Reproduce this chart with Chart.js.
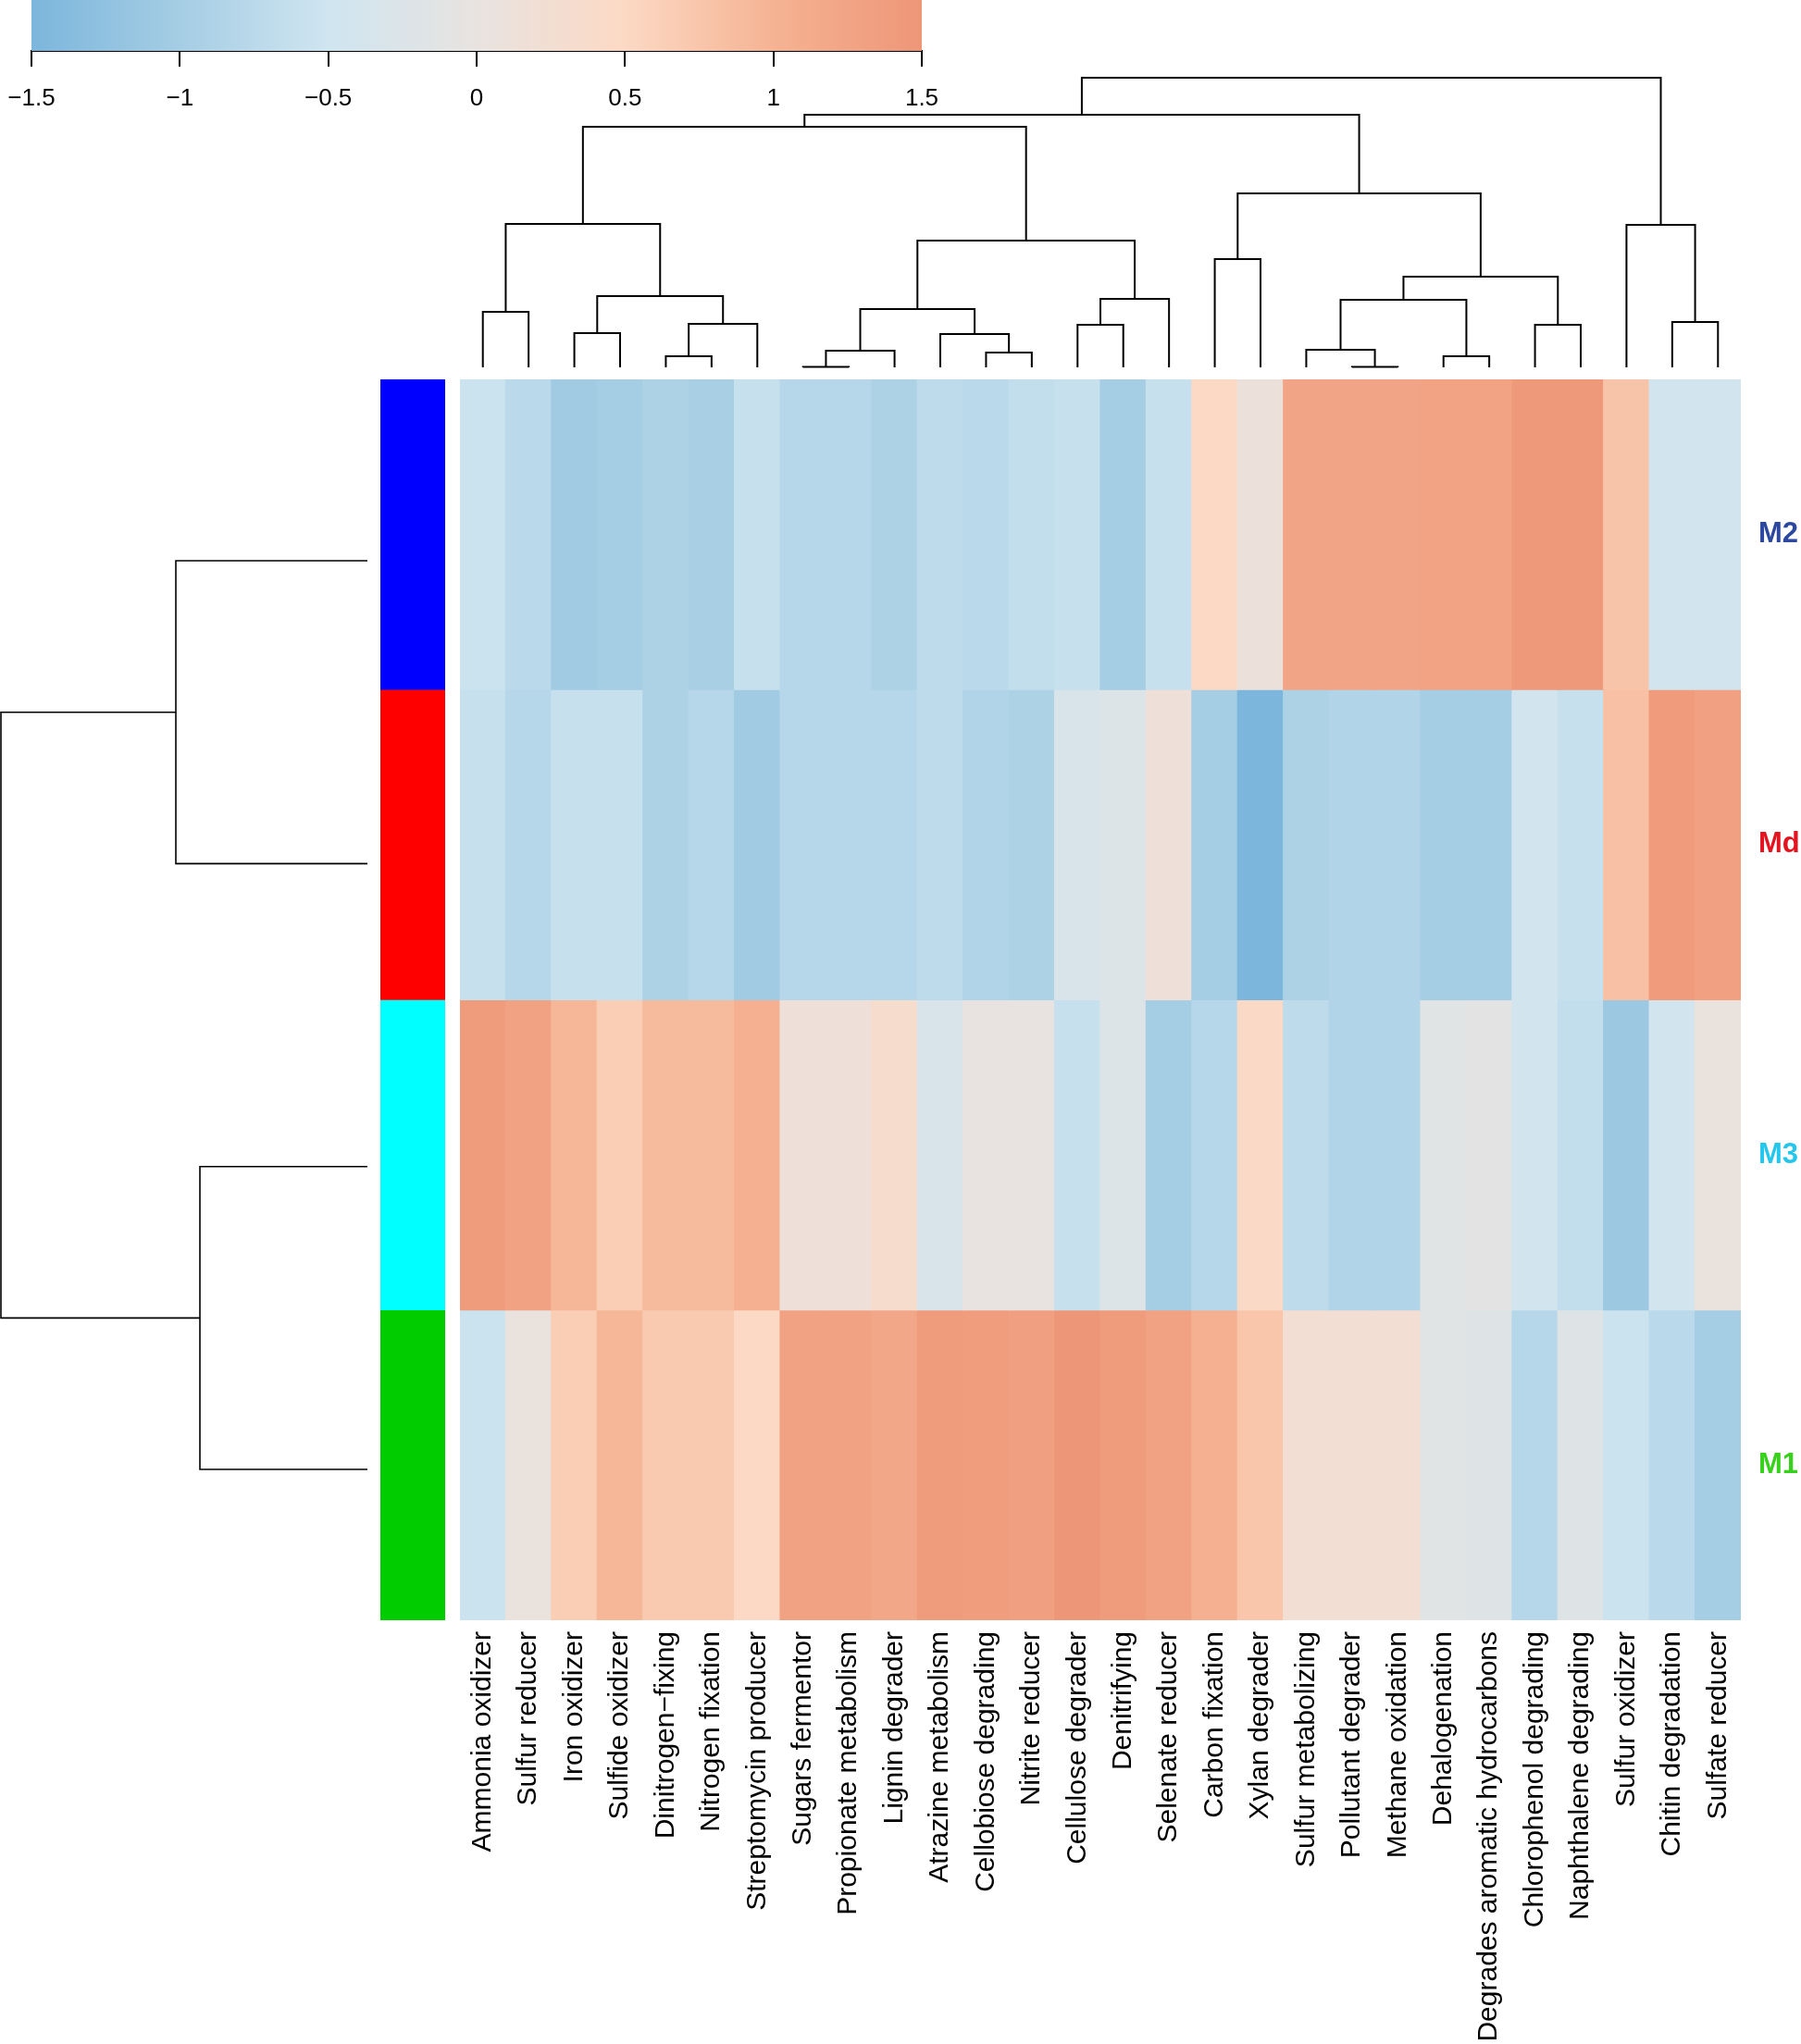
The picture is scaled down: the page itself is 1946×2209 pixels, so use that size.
<!DOCTYPE html>
<html>
<head>
<meta charset="utf-8">
<script src="https://cdn.jsdelivr.net/npm/chart.js@4.4.1/dist/chart.umd.min.js"></script>
<style>
  html, body { margin: 0; padding: 0; background: #fff; }
  #page { position: relative; width: 1946px; height: 2209px; overflow: hidden; }
  canvas { position: absolute; }
</style>
</head>
<body>
<div id="page">
  <canvas id="colorKey" width="1030" height="140" style="left:0px;top:0px"></canvas>
  <canvas id="colTree" width="1384" height="345" style="left:497px;top:60px"></canvas>
  <canvas id="rowTree" width="400" height="1341" style="left:0px;top:410px"></canvas>
  <canvas id="sideBar" width="70" height="1341" style="left:411px;top:410px"></canvas>
  <canvas id="heatmap" width="1449" height="1799" style="left:497px;top:410px"></canvas>
</div>
<script>
// functions (columns) in dendrogram order
var columns = [
  "Ammonia oxidizer", "Sulfur reducer", "Iron oxidizer", "Sulfide oxidizer",
  "Dinitrogen\u2212fixing", "Nitrogen fixation", "Streptomycin producer",
  "Sugars fermentor", "Propionate metabolism", "Lignin degrader",
  "Atrazine metabolism", "Cellobiose degrading", "Nitrite reducer",
  "Cellulose degrader", "Denitrifying", "Selenate reducer", "Carbon fixation",
  "Xylan degrader", "Sulfur metabolizing", "Pollutant degrader",
  "Methane oxidation", "Dehalogenation", "Degrades aromatic hydrocarbons",
  "Chlorophenol degrading", "Naphthalene degrading", "Sulfur oxidizer",
  "Chitin degradation", "Sulfate reducer"
];
var rows = ["M2", "Md", "M3", "M1"];

// z-scores per row, same order as columns
var m2Values = [-0.55, -0.75, -1.05, -1.0, -0.9, -0.95, -0.6, -0.8, -0.8, -0.9, -0.7, -0.75, -0.65, -0.6,
                -1.0, -0.6, 0.5, 0.1, 1.25, 1.25, 1.25, 1.28, 1.28, 1.45, 1.45, 0.78, -0.45, -0.45];
var mdValues = [-0.6, -0.8, -0.6, -0.6, -0.9, -0.8, -1.05, -0.8, -0.8, -0.8, -0.7, -0.85, -0.9, -0.3,
                -0.25, 0.15, -1.0, -1.5, -0.9, -0.85, -0.85, -1.0, -1.0, -0.45, -0.6, 0.82, 1.42, 1.32];
var m3Values = [1.4, 1.3, 0.95, 0.65, 0.9, 0.9, 1.05, 0.15, 0.15, 0.35, -0.3, 0.0, 0.0, -0.6,
                -0.25, -1.0, -0.8, 0.45, -0.7, -0.85, -0.85, -0.15, -0.1, -0.45, -0.65, -1.1, -0.45, 0.05];
var m1Values = [-0.55, 0.05, 0.65, 0.95, 0.7, 0.7, 0.5, 1.3, 1.3, 1.2, 1.4, 1.38, 1.35, 1.5,
                1.4, 1.3, 1.05, 0.75, 0.25, 0.25, 0.25, -0.15, -0.2, -0.8, -0.2, -0.55, -0.75, -1.0];

// colour key
var keyTicks = [-1.5, -1, -0.5, 0, 0.5, 1, 1.5];
var keyColors = ["#7CB6DC", "#A5CDE4", "#CFE5F0", "#E8E3E0", "#FCD9C4", "#F5B393", "#EE9678"];

var sideColors = ["#0000FF", "#FF0000", "#00FFFF", "#00CC00"];
var rowLabelColors = ["#2B479E", "#E3141F", "#25C6EC", "#37D11B"];

// column dendrogram, hclust style: negative = leaf, positive = earlier merge
var colMerge = [[-1, -2], [-3, -4], [-5, -6], [3, -7], [2, 4], [1, 5],
                [-8, -9], [7, -10], [-12, -13], [-11, 9], [8, 10], [-14, -15], [12, -16], [11, 13],
                [6, 14], [-17, -18], [-20, -21], [-19, 17], [-22, -23], [18, 19], [-24, -25], [20, 21],
                [16, 22], [15, 23], [-27, -28], [-26, 25], [24, 26]];
var colHeight = [0.60, 0.37, 0.12, 0.47, 0.77, 1.55,
                 0.005, 0.18, 0.16, 0.36, 0.63, 0.46, 0.74, 1.37,
                 2.60, 1.17, 0.005, 0.19, 0.12, 0.73, 0.46, 0.98,
                 1.88, 2.73, 0.49, 1.54, 3.13];

// row dendrogram
var rowMerge = [[-1, -2], [-3, -4], [1, 2]];
var rowHeight = [2.07, 1.81, 3.96];

var FONT = "'Liberation Sans', Arial, Helvetica, sans-serif";
Chart.defaults.font.family = FONT;
Chart.defaults.color = "#000";

function hexToRgb(h) {
  return [parseInt(h.slice(1, 3), 16), parseInt(h.slice(3, 5), 16), parseInt(h.slice(5, 7), 16)];
}

function valueToColor(v) {
  v = Math.max(keyTicks[0], Math.min(keyTicks[keyTicks.length - 1], v));
  for (var i = 0; i < keyTicks.length - 1; i++) {
    if (v <= keyTicks[i + 1]) {
      var t = (v - keyTicks[i]) / (keyTicks[i + 1] - keyTicks[i]);
      var a = hexToRgb(keyColors[i]), b = hexToRgb(keyColors[i + 1]);
      var c = a.map(function (x, k) { return Math.round(x + (b[k] - x) * t); });
      return "rgb(" + c.join(",") + ")";
    }
  }
  return keyColors[keyColors.length - 1];
}

// turn merge list into elbow lines [leafPos, height]
function treeLines(merge, height) {
  var pos = [];
  var lines = [];
  function nodePos(k) { return k < 0 ? -k - 1 : pos[k - 1]; }
  function nodeH(k) { return k < 0 ? 0 : height[k - 1]; }
  merge.forEach(function (m, i) {
    var a = nodePos(m[0]), b = nodePos(m[1]);
    pos.push((a + b) / 2);
    lines.push([[a, nodeH(m[0])], [a, height[i]], [b, height[i]], [b, nodeH(m[1])]]);
  });
  return lines;
}

var quiet = {
  responsive: false,
  animation: false,
  events: [],
  plugins: { legend: { display: false }, tooltip: { enabled: false } }
};

function opts(extra) {
  return Object.assign({}, quiet, extra);
}

// axis labels must not shrink the plot areas
function noPadding(s) {
  s.paddingTop = 0;
  s.paddingBottom = 0;
  s.paddingLeft = 0;
  s.paddingRight = 0;
}

// colour key
new Chart(document.getElementById("colorKey"), {
  type: "bar",
  data: {
    labels: ["key"],
    datasets: [{
      data: [[keyTicks[0], keyTicks[keyTicks.length - 1]]],
      backgroundColor: function (ctx) {
        var x = ctx.chart.scales.x;
        if (!x || !ctx.chart.chartArea) return keyColors[0];
        var x0 = x.getPixelForValue(keyTicks[0]);
        var x1 = x.getPixelForValue(keyTicks[keyTicks.length - 1]);
        if (!isFinite(x0) || !isFinite(x1)) return keyColors[0];
        var g = ctx.chart.ctx.createLinearGradient(x0, 0, x1, 0);
        keyTicks.forEach(function (t, i) {
          g.addColorStop((t - keyTicks[0]) / (keyTicks[keyTicks.length - 1] - keyTicks[0]), keyColors[i]);
        });
        return g;
      },
      borderWidth: 0,
      barPercentage: 1,
      categoryPercentage: 1
    }]
  },
  options: opts({
    indexAxis: "y",
    layout: { padding: { left: 34, right: 34, top: 0, bottom: 0 } },
    scales: {
      x: {
        type: "linear",
        min: keyTicks[0],
        max: keyTicks[keyTicks.length - 1],
        afterFit: function (s) { s.height = 85; noPadding(s); },
        grid: { drawOnChartArea: false, tickLength: 17, color: "#000", lineWidth: 2 },
        border: { display: true, color: "#000", width: 2 },
        ticks: {
          stepSize: 0.5,
          padding: 19,
          font: { size: 26 },
          color: "#000",
          callback: function (v) { return v < 0 ? "\u2212" + Math.abs(v) : String(v); }
        }
      },
      y: { display: false }
    }
  })
});

// column dendrogram
new Chart(document.getElementById("colTree"), {
  type: "scatter",
  data: {
    datasets: treeLines(colMerge, colHeight).map(function (seg) {
      return {
        data: seg.map(function (p) { return { x: p[0] + 0.5, y: p[1] }; }),
        showLine: true,
        borderColor: "#000",
        borderWidth: 2,
        pointRadius: 0,
        clip: false
      };
    })
  },
  options: opts({
    layout: { padding: 0 },
    scales: {
      x: { type: "linear", min: 0, max: columns.length, display: false },
      y: { type: "linear", min: -0.08, max: 3.37, display: false }
    }
  })
});

// row dendrogram
new Chart(document.getElementById("rowTree"), {
  type: "scatter",
  data: {
    datasets: treeLines(rowMerge, rowHeight).map(function (seg) {
      return {
        data: seg.map(function (p) { return { x: p[1], y: p[0] }; }),
        showLine: true,
        borderColor: "#000",
        borderWidth: 1.6,
        pointRadius: 0,
        clip: false
      };
    })
  },
  options: opts({
    layout: { padding: 0 },
    scales: {
      x: { type: "linear", min: -0.03, max: 3.97, reverse: true, display: false },
      y: { type: "linear", min: -0.599, max: 3.498, reverse: true, display: false }
    }
  })
});

// row side colours
new Chart(document.getElementById("sideBar"), {
  type: "bar",
  data: {
    labels: ["side"],
    datasets: rows.map(function (r, ri) {
      return {
        label: r,
        data: [[ri, ri + 1]],
        backgroundColor: sideColors[ri],
        borderWidth: 0,
        grouped: false,
        barPercentage: 1,
        categoryPercentage: 1
      };
    })
  },
  options: opts({
    layout: { padding: 0 },
    scales: {
      x: { display: false },
      y: { type: "linear", min: 0, max: rows.length, reverse: true, display: false }
    }
  })
});

// heatmap
var rowSeries = [m2Values, mdValues, m3Values, m1Values];
new Chart(document.getElementById("heatmap"), {
  type: "bar",
  data: {
    labels: columns,
    datasets: rows.map(function (r, ri) {
      return {
        label: r,
        data: rowSeries[ri].map(function () { return [ri, ri + 1]; }),
        backgroundColor: rowSeries[ri].map(valueToColor),
        borderWidth: 0,
        grouped: false,
        barPercentage: 1,
        categoryPercentage: 1,
        inflateAmount: 0.6
      };
    })
  },
  options: opts({
    layout: { padding: 0 },
    scales: {
      x: {
        type: "category",
        offset: true,
        afterFit: function (s) { s.height = 458; noPadding(s); },
        grid: { display: false, drawTicks: false },
        border: { display: false },
        ticks: {
          autoSkip: false,
          minRotation: 90,
          maxRotation: 90,
          padding: 12,
          font: { size: 30 },
          color: "#000"
        }
      },
      y: { type: "linear", min: 0, max: rows.length, reverse: true, display: false },
      rows: {
        type: "category",
        axis: "y",
        position: "right",
        labels: rows,
        offset: true,
        afterFit: function (s) { s.width = 65; noPadding(s); },
        grid: { display: false, drawTicks: false },
        border: { display: false },
        ticks: {
          padding: 19,
          font: { size: 31, weight: "bold" },
          color: function (ctx) { return rowLabelColors[ctx.index]; }
        }
      }
    }
  })
});
</script>
</body>
</html>
